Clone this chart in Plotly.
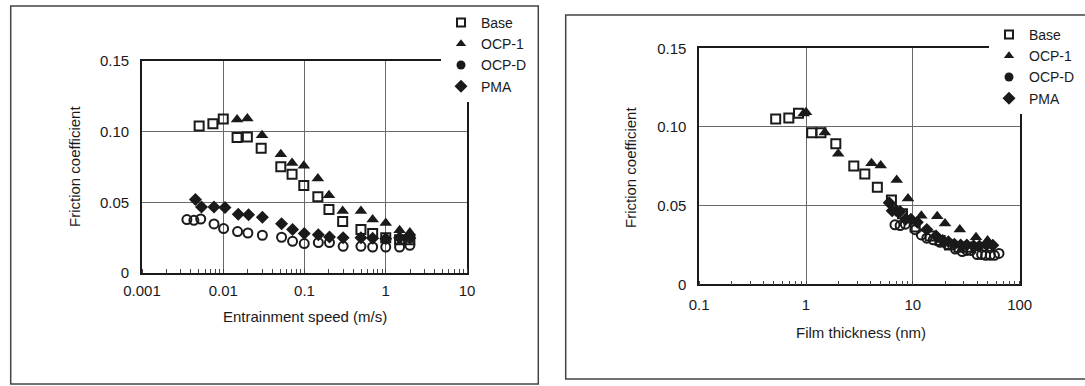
import plotly.graph_objects as go

W, H = 1085, 386

# ---------------- data: left panel (friction vs entrainment speed) ----------------
base_u = [0.00505, 0.00746, 0.0100, 0.0148, 0.0198, 0.0293, 0.0511, 0.0703, 0.098, 0.146, 0.200, 0.295, 0.495, 0.69, 1.00, 1.48, 1.98]
base_mu = [0.1040, 0.1056, 0.1089, 0.0959, 0.0963, 0.0883, 0.0751, 0.0699, 0.0619, 0.0539, 0.0449, 0.0364, 0.0307, 0.0279, 0.0250, 0.0236, 0.0236]

ocp1_u = [0.0148, 0.0198, 0.0300, 0.0511, 0.0703, 0.098, 0.146, 0.200, 0.295, 0.495, 0.69, 1.00, 1.48, 1.98]
ocp1_mu = [0.1086, 0.1093, 0.0975, 0.0840, 0.0779, 0.0758, 0.0668, 0.0550, 0.0439, 0.0439, 0.0378, 0.0354, 0.0302, 0.0286]

ocpd_u = [0.00357, 0.00435, 0.00528, 0.0077, 0.0101, 0.0150, 0.0201, 0.0303, 0.0522, 0.0713, 0.0993, 0.148, 0.203, 0.299, 0.495, 0.69, 1.00, 1.48, 1.98]
ocpd_mu = [0.0378, 0.0373, 0.0382, 0.0347, 0.0314, 0.0293, 0.0283, 0.0267, 0.0253, 0.0224, 0.0208, 0.0215, 0.0215, 0.0189, 0.0189, 0.0184, 0.0184, 0.0184, 0.0196]

pma_u = [0.00455, 0.0054, 0.0077, 0.0105, 0.0153, 0.0205, 0.0303, 0.0522, 0.0713, 0.0993, 0.148, 0.203, 0.299, 0.495, 0.69, 1.00, 1.48, 1.98]
pma_mu = [0.0520, 0.0467, 0.0467, 0.0463, 0.0415, 0.0413, 0.0394, 0.0349, 0.0307, 0.0279, 0.0271, 0.0255, 0.0250, 0.0250, 0.0245, 0.0243, 0.0250, 0.0248]

# ---------------- data: right panel (friction vs film thickness) ----------------
base_h = [0.52, 0.69, 0.85, 1.13, 1.38, 1.90, 2.80, 3.55, 4.65, 6.30, 8.0, 10.5, 14.5, 18.0, 22.0, 27.0, 33.0]
base_mu2 = [0.1051, 0.1057, 0.1087, 0.0964, 0.0964, 0.0894, 0.0752, 0.0701, 0.0617, 0.0536, 0.0449, 0.0364, 0.0307, 0.0279, 0.0250, 0.0236, 0.0236]

ocp1_h = [0.95, 1.00, 1.50, 2.00, 4.10, 5.00, 7.06, 9.00, 12.0, 16.9, 20.0, 27.5, 39.0, 50.0]
ocp1_mu2 = [0.1086, 0.1093, 0.0965, 0.0830, 0.0770, 0.0755, 0.0663, 0.0545, 0.0435, 0.0432, 0.0387, 0.0348, 0.0299, 0.0278]

ocpd_h = [6.8, 7.6, 8.5, 10.5, 12.0, 13.5, 15.5, 18.0, 21.0, 25.0, 29.0, 32.0, 35.0, 40.0, 44.0, 48.0, 53.0, 58.0, 64.0]
ocpd_mu2 = [0.0378, 0.0373, 0.0382, 0.0347, 0.0314, 0.0293, 0.0283, 0.0267, 0.0253, 0.0224, 0.0208, 0.0215, 0.0215, 0.0189, 0.0189, 0.0184, 0.0184, 0.0184, 0.0196]

pma_h = [6.0, 6.4, 7.0, 7.6, 8.6, 9.6, 11.0, 13.5, 16.5, 19.0, 21.5, 24.5, 28.0, 32.0, 37.0, 42.0, 49.0, 56.0]
pma_mu2 = [0.0519, 0.0467, 0.0467, 0.0463, 0.0415, 0.0413, 0.0394, 0.0349, 0.0307, 0.0279, 0.0271, 0.0255, 0.0250, 0.0250, 0.0245, 0.0243, 0.0250, 0.0248]

# ---------------- tick labels ----------------
speed_ticks = [0.001, 0.01, 0.1, 1, 10]
speed_labels = ["0.001", "0.01", "0.1", "1", "10"]
film_ticks = [0.1, 1, 10, 100]
film_labels = ["0.1", "1", "10", "100"]
mu_ticks = [0, 0.05, 0.10, 0.15]
mu_labels = ["0", "0.05", "0.10", "0.15"]

series_names = ["Base", "OCP-1", "OCP-D", "PMA"]

INK = "#1a1a1a"
FONT = "Liberation Sans, Arial, Helvetica, sans-serif"


def px(x):
    return x / W


def py(y):
    return 1 - y / H


styles = {
    "Base": dict(symbol="square-open", size=9, color=INK, line=dict(width=2, color=INK)),
    "OCP-1": dict(symbol="triangle-up", size=11, color=INK, line=dict(width=0)),
    "OCP-D": dict(symbol="circle-open", size=9, color=INK, line=dict(width=2, color=INK)),
    "PMA": dict(symbol="diamond", size=10, color=INK, line=dict(width=0)),
}
legend_styles = {
    "Base": dict(symbol="square-open", size=8, color=INK, line=dict(width=2, color=INK)),
    "OCP-1": dict(symbol="triangle-up", size=9, color=INK),
    "OCP-D": dict(symbol="circle", size=9, color=INK),
    "PMA": dict(symbol="diamond", size=10, color=INK),
}

fig = go.Figure()

left_data = [(base_u, base_mu), (ocp1_u, ocp1_mu), (ocpd_u, ocpd_mu), (pma_u, pma_mu)]
right_data = [(base_h, base_mu2), (ocp1_h, ocp1_mu2), (ocpd_h, ocpd_mu2), (pma_h, pma_mu2)]

for name, (xs, ys) in zip(series_names, left_data):
    fig.add_trace(go.Scatter(x=xs, y=ys, mode="markers", name=name, marker=styles[name],
                             xaxis="x", yaxis="y", showlegend=False))
for name, (xs, ys) in zip(series_names, right_data):
    fig.add_trace(go.Scatter(x=xs, y=ys, mode="markers", name=name, marker=styles[name],
                             xaxis="x2", yaxis="y2", showlegend=False))

# legend entries
for name in series_names:
    fig.add_trace(go.Scatter(x=[None], y=[None], mode="markers", name=name, marker=legend_styles[name],
                             xaxis="x", yaxis="y", legend="legend"))
for name in series_names:
    fig.add_trace(go.Scatter(x=[None], y=[None], mode="markers", name=name, marker=legend_styles[name],
                             xaxis="x2", yaxis="y2", legend="legend2"))

common_x = dict(type="log", showgrid=True, gridcolor="#6a6a6a", gridwidth=1, showline=True,
                linecolor=INK, linewidth=1.6, mirror=True, ticks="", zeroline=False,
                tickfont=dict(size=15, color=INK, family=FONT), automargin=False,
                minor=dict(ticks="inside", ticklen=4, tickcolor="#444", tickwidth=1, showgrid=False, dtick="D1"))
common_y = dict(range=[0, 0.15], tickvals=mu_ticks, ticktext=mu_labels, showgrid=True,
                gridcolor="#6a6a6a", gridwidth=1, showline=True, linecolor=INK, linewidth=1.6,
                mirror=True, ticks="", zeroline=False, tickfont=dict(size=15, color=INK, family=FONT),
                automargin=False, ticklabelstandoff=8)

fig.update_layout(
    width=W, height=H, autosize=False,
    margin=dict(l=0, r=0, t=0, b=0),
    paper_bgcolor="white", plot_bgcolor="white",
    font=dict(family=FONT, size=15, color=INK),
    xaxis=dict(common_x, domain=[px(142), px(467)], range=[-3, 1], tickvals=speed_ticks,
               ticktext=speed_labels, anchor="y", ticklabelstandoff=3),
    yaxis=dict(common_y, domain=[py(273), py(61)], anchor="x"),
    xaxis2=dict(common_x, domain=[px(699.2), px(1019.7)], range=[-1, 2], tickvals=film_ticks,
                ticktext=film_labels, anchor="y2", ticklabelstandoff=6),
    yaxis2=dict(common_y, domain=[py(284.3), py(48.3)], anchor="x2"),
    legend=dict(x=px(441), y=py(7), xanchor="left", yanchor="top", bgcolor="white",
                borderwidth=0, font=dict(size=14, color=INK, family=FONT), tracegroupgap=0),
    legend2=dict(x=px(989), y=py(19), xanchor="left", yanchor="top", bgcolor="white",
                 borderwidth=0, font=dict(size=14, color=INK, family=FONT), tracegroupgap=0),
    showlegend=True,
    shapes=[
        dict(type="rect", xref="paper", yref="paper", x0=px(10.7), x1=px(538.3), y0=py(384), y1=py(6),
             line=dict(color="#444", width=1.5), layer="below"),
        dict(type="rect", xref="paper", yref="paper", x0=px(565.7), x1=px(1090), y0=py(379), y1=py(15),
             line=dict(color="#444", width=1.5), layer="below"),
    ],
    annotations=[
        dict(text="Entrainment speed (m/s)", xref="paper", yref="paper", x=px(305), y=py(316),
             xanchor="center", yanchor="middle", showarrow=False, font=dict(size=15, color=INK)),
        dict(text="Friction coefficient", xref="paper", yref="paper", x=px(74), y=py(167),
             xanchor="center", yanchor="middle", showarrow=False, textangle=-90,
             font=dict(size=15, color=INK)),
        dict(text="Film thickness (nm)", xref="paper", yref="paper", x=px(861), y=py(332),
             xanchor="center", yanchor="middle", showarrow=False, font=dict(size=15, color=INK)),
        dict(text="Friction coefficient", xref="paper", yref="paper", x=px(630), y=py(168),
             xanchor="center", yanchor="middle", showarrow=False, textangle=-90,
             font=dict(size=15, color=INK)),
    ],
)

fig.write_html("out.html", config={"displayModeBar": False},
               post_script="document.body.style.margin='0';document.body.style.overflow='hidden';")
